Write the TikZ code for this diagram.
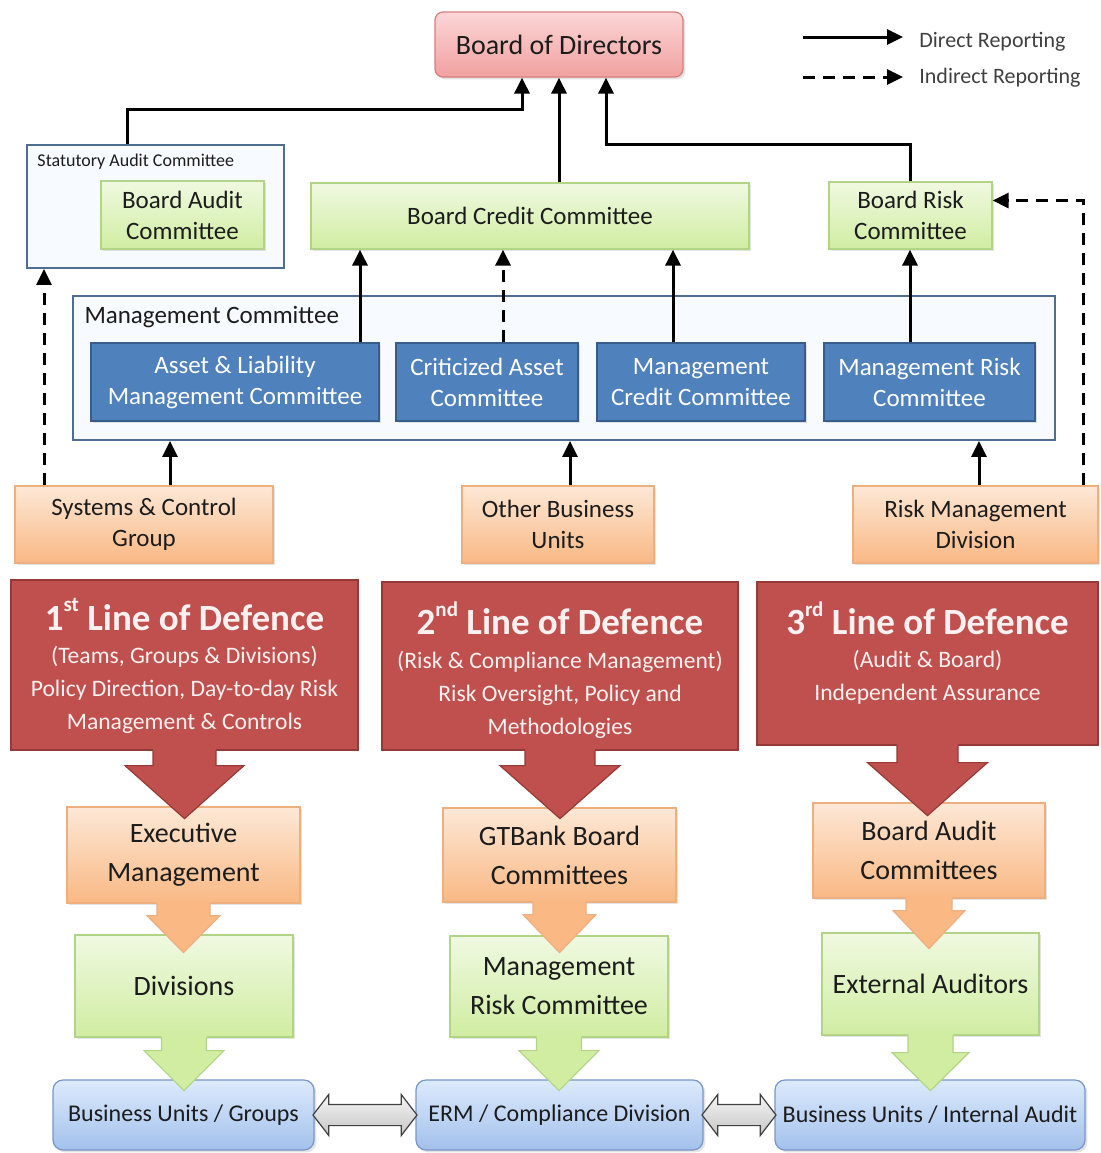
\documentclass[tikz,border=0pt]{standalone}
\usepackage{fontspec}
\setmainfont{Carlito}
\usepackage{xcolor}
\usepackage{tikz}
\usetikzlibrary{shadows}
\usetikzlibrary{positioning}
\usetikzlibrary{arrows.meta,shapes.arrows}
\usetikzlibrary{calc}

\definecolor{bodtop}{RGB}{252,214,214}
\definecolor{bodbot}{RGB}{241,160,160}
\definecolor{bodline}{RGB}{215,125,125}
\definecolor{grtop}{RGB}{240,249,225}
\definecolor{grbot}{RGB}{208,237,162}
\definecolor{grline}{RGB}{178,212,135}
\definecolor{bluefill}{RGB}{79,129,189}
\definecolor{blueline}{RGB}{56,93,138}
\definecolor{outerfill}{RGB}{247,250,254}
\definecolor{outerline}{RGB}{80,110,145}
\definecolor{ortop}{RGB}{253,232,214}
\definecolor{orbot}{RGB}{249,184,132}
\definecolor{orline}{RGB}{238,175,128}
\definecolor{redfill}{RGB}{192,80,77}
\definecolor{redline}{RGB}{150,58,55}
\definecolor{redtext}{RGB}{253,240,240}
\definecolor{bltop}{RGB}{220,234,252}
\definecolor{blbot}{RGB}{163,193,236}
\definecolor{blline}{RGB}{120,150,200}
\definecolor{txt}{RGB}{28,28,28}

\tikzstyle{box}=[rectangle,inner sep=2pt,align=center,text=txt,line width=0.6pt,font=\fontsize{12.5}{15.5}\selectfont]
\tikzstyle{softshadow}=[drop shadow={opacity=0.22,shadow xshift=1.2pt,shadow yshift=-1.2pt}]
\tikzstyle{bigtext}=[font=\fontsize{14}{19.5}\selectfont]
\tikzstyle{pinkbox}=[box,softshadow,rounded corners=4pt,draw=bodline,top color=bodtop,bottom color=bodbot,font=\fontsize{14}{17}\selectfont]
\tikzstyle{greenbox}=[box,softshadow,draw=grline,top color=grtop,bottom color=grbot]
\tikzstyle{orangebox}=[box,softshadow,draw=orline,top color=ortop,bottom color=orbot]
\tikzstyle{bluebox}=[box,softshadow,draw=blueline,fill=bluefill,text=white]
\tikzstyle{outerbox}=[rectangle,draw=outerline,fill=outerfill,line width=0.9pt,inner sep=0pt]
\tikzstyle{redbox}=[rectangle,draw=redline,fill=redfill,line width=0.6pt,inner sep=0pt]
\tikzstyle{unitbox}=[box,softshadow,rounded corners=5pt,draw=blline,top color=bltop,bottom color=blbot,font=\fontsize{12}{15}\selectfont]
\tikzstyle{deftitle}=[text=redtext,inner sep=0pt,font=\fontsize{18.5}{22}\selectfont\bfseries]
\tikzstyle{defbody}=[text=redtext,inner sep=0pt,align=center,font=\fontsize{11.8}{16.5}\selectfont]
\tikzstyle{swaparrow}=[double arrow,draw=black!75,line width=0.6pt,top color=gray!8,bottom color=gray!45,inner xsep=0pt,inner ysep=5pt,minimum width=0pt,double arrow head extend=5pt,double arrow tip angle=105]
\tikzstyle{directedge}=[draw=black,line width=1.5pt,-{Triangle[length=8pt,width=7.5pt]}]
\tikzstyle{indirectedge}=[directedge,dash pattern=on 6pt off 4pt]
\tikzset{legendtext/.style={text=black!75,inner sep=0pt,font=\fontsize{11}{13}\selectfont}}

\newcommand{\ordsup}[1]{\raisebox{0.5em}{\fontsize{10.5}{11}\selectfont #1}}

% block arrow pointing down: fill, border, top point, shaft half width, shaft length, head half width, head length
\newcommand{\blockdown}[7]{%
  \fill[#1] ($(#3)+(-#4,-2)$) -- ++(0,#5+2) -- ++(#4-#6,0) -- ++(#6,#7) -- ++(#6,-#7) -- ++(#4-#6,0) -- ++(0,-#5-2) -- cycle;
  \draw[#2,line width=0.6pt] ($(#3)+(-#4,0)$) -- ++(0,#5) -- ++(#4-#6,0) -- ++(#6,#7) -- ++(#6,-#7) -- ++(#4-#6,0) -- ++(0,-#5);
}

\begin{document}
\begin{tikzpicture}[x=0.5pt,y=-0.5pt]

  \useasboundingbox (0,0) rectangle (1100,1153);
  \fill[white] (0,0) rectangle (1100,1153);

  % top
  \node[pinkbox, minimum width=124pt, minimum height=32.5pt] (bod) at (559,44.5) {Board of Directors};

  \coordinate (lgA1) at (803,37);
  \coordinate (lgA2) at (903,37);
  \draw[directedge] (lgA1) -- (lgA2);
  \node[legendtext, anchor=west] (lgT1) at (919,42) {Direct Reporting};
  \coordinate (lgB1) at (803,77);
  \coordinate (lgB2) at (903,77);
  \draw[indirectedge] (lgB1) -- (lgB2);
  \node[legendtext, anchor=west] (lgT2) at (919,78) {Indirect Reporting};

  % group frames
  \node[outerbox, minimum width=128.5pt, minimum height=61.5pt] (sac) at (155.5,206.5) {};
  \node[anchor=west, inner sep=0pt, text=txt, font=\fontsize{9}{11}\selectfont] (saclabel) at ($(sac.north west)+(11,18)$) {Statutory Audit Committee};
  \node[outerbox, minimum width=491pt, minimum height=72pt] (mc) at (564,368) {};
  \node[anchor=west, inner sep=0pt, text=txt, font=\fontsize{12.5}{15}\selectfont] (mclabel) at ($(mc.north west)+(12,22)$) {Management Committee};

  % board committees
  \foreach \x/\y/\w/\h/\name/\label in {182.5/215/163/68/bac/{Board Audit\\Committee}, 530/216/438/66/bcc/{Board Credit Committee}, 910.5/215.5/163/67/brc/{Board Risk\\Committee}}
    \node[greenbox, minimum width=\w*0.5pt, minimum height=\h*0.5pt] (\name) at (\x,\y) {\label};

  % management committees
  \foreach \x/\w/\name/\label in {235/288/almc/{Asset \& Liability\\Management Committee}, 487/182/cac/{Criticized Asset\\Committee}, 701/208/mcc/{Management\\Credit Committee}, 929.5/211/mrc/{Management Risk\\Committee}}
    \node[bluebox, minimum width=\w*0.5pt, minimum height=39pt] (\name) at (\x,382) {\label};

  % units
  \foreach \x/\w/\name/\label in {144/258/scg/{Systems \& Control\\Group}, 558/192/obu/{Other Business\\Units}, 975.5/245/rmd/{Risk Management\\Division}}
    \node[orangebox, minimum width=\w*0.5pt, minimum height=38.5pt] (\name) at (\x,524.5) {\label};

  % lines of defence
  \node[redbox, minimum width=173.5pt, minimum height=85pt] (d1) at (184.5,665) {};
  \node[redbox, minimum width=178pt, minimum height=84pt] (d2) at (560,666) {};
  \node[redbox, minimum width=170.5pt, minimum height=81.5pt] (d3) at (927.5,663.5) {};

  \node[deftitle] (d1t) at ($(d1.north)+(0,35)$) {1\ordsup{st} Line of Defence};
  \node[defbody] (d1b) at ($(d1.north)+(0,110)$) {(Teams, Groups \& Divisions)\\Policy Direction, Day-to-day Risk\\Management \& Controls};
  \node[deftitle] (d2t) at ($(d2.north)+(0,37)$) {2\ordsup{nd} Line of Defence};
  \node[defbody] (d2b) at ($(d2.north)+(0,113)$) {(Risk \& Compliance Management)\\Risk Oversight, Policy and\\Methodologies};
  \node[deftitle] (d3t) at ($(d3.north)+(0,37)$) {3\ordsup{rd} Line of Defence};
  \node[defbody] (d3b) at ($(d3.north)+(0,95.5)$) {(Audit \& Board)\\Independent Assurance};

  \foreach \x/\y/\w/\h/\name/\label in {183.5/855/233/96/em/{Executive\\Management}, 559.5/855/233/94/gbc/{GTBank Board\\Committees}, 929/850.5/232/95/bacs/{Board Audit\\Committees}}
    \node[orangebox, bigtext, minimum width=\w*0.5pt, minimum height=\h*0.5pt] (\name) at (\x,\y) {\label};

  \foreach \x/\y/\w/\h/\name/\label in {184/986/218/102/dv/{Divisions}, 559/986.5/218/101/mrk/{Management\\Risk Committee}, 930.5/984/217/102/ea/{External Auditors}}
    \node[greenbox, bigtext, minimum width=\w*0.5pt, minimum height=\h*0.5pt] (\name) at (\x,\y) {\label};

  \foreach \x/\w/\name/\label in {183.5/261/bug/{Business Units / Groups}, 559.5/287/erm/{ERM / Compliance Division}, 930/310/bua/{Business Units / Internal Audit}}
    \node[unitbox, minimum width=\w*0.5pt, minimum height=35pt] (\name) at (\x,1115) {\label};

  \node[swaparrow, minimum height=52pt] (sw1) at ($(bug.east)!0.5!(erm.west)$) {};
  \node[swaparrow, minimum height=37pt] (sw2) at ($(erm.east)!0.5!(bua.west)$) {};

  % block arrows
  \blockdown{redfill}{redline}{d1.south}{31.5}{15}{59.5}{53}
  \blockdown{redfill}{redline}{d2.south}{35}{15}{60}{53}
  \blockdown{redfill}{redline}{d3.south}{30.5}{17}{60}{53}
  \blockdown{orbot}{orline}{em.south}{26.5}{12}{36.5}{37}
  \blockdown{orbot}{orline}{gbc.south}{26.5}{12}{36.5}{38}
  \blockdown{orbot}{orline}{bacs.south}{23}{12}{36}{38}
  \blockdown{grbot}{grline}{dv.south}{22.5}{13}{40}{40}
  \blockdown{grbot}{grline}{mrk.south}{22.5}{13}{40}{40}
  \blockdown{grbot}{grline}{ea.south}{22.5}{17}{38.5}{38}

  % reporting lines
  \draw[directedge] ($(sac.north west)+(101,0)$) -- ++(0,-35) -| ($(bod.south)+(-37,0)$);
  \draw[directedge] (bcc.north -| bod.south) -- (bod.south);
  \draw[directedge] (brc.north) -- ++(0,-37) -| ($(bod.south)+(47,0)$);

  \foreach \src/\dx/\dest/\kind in {almc/125/bcc/directedge, cac/16/bcc/indirectedge, mcc/-28/bcc/directedge, mrc/-19.5/brc/directedge, scg/-100/sac/indirectedge, scg/26/mc/directedge, obu/12/mc/directedge, rmd/3.5/mc/directedge}
    \draw[\kind] ($(\src.north)+(\dx,0)$) coordinate (tmp) -- (tmp |- \dest.south);

  \draw[indirectedge] ($(rmd.north)+(107.5,0)$) |- ($(brc.east)+(0,-15)$);

\end{tikzpicture}
\end{document}
